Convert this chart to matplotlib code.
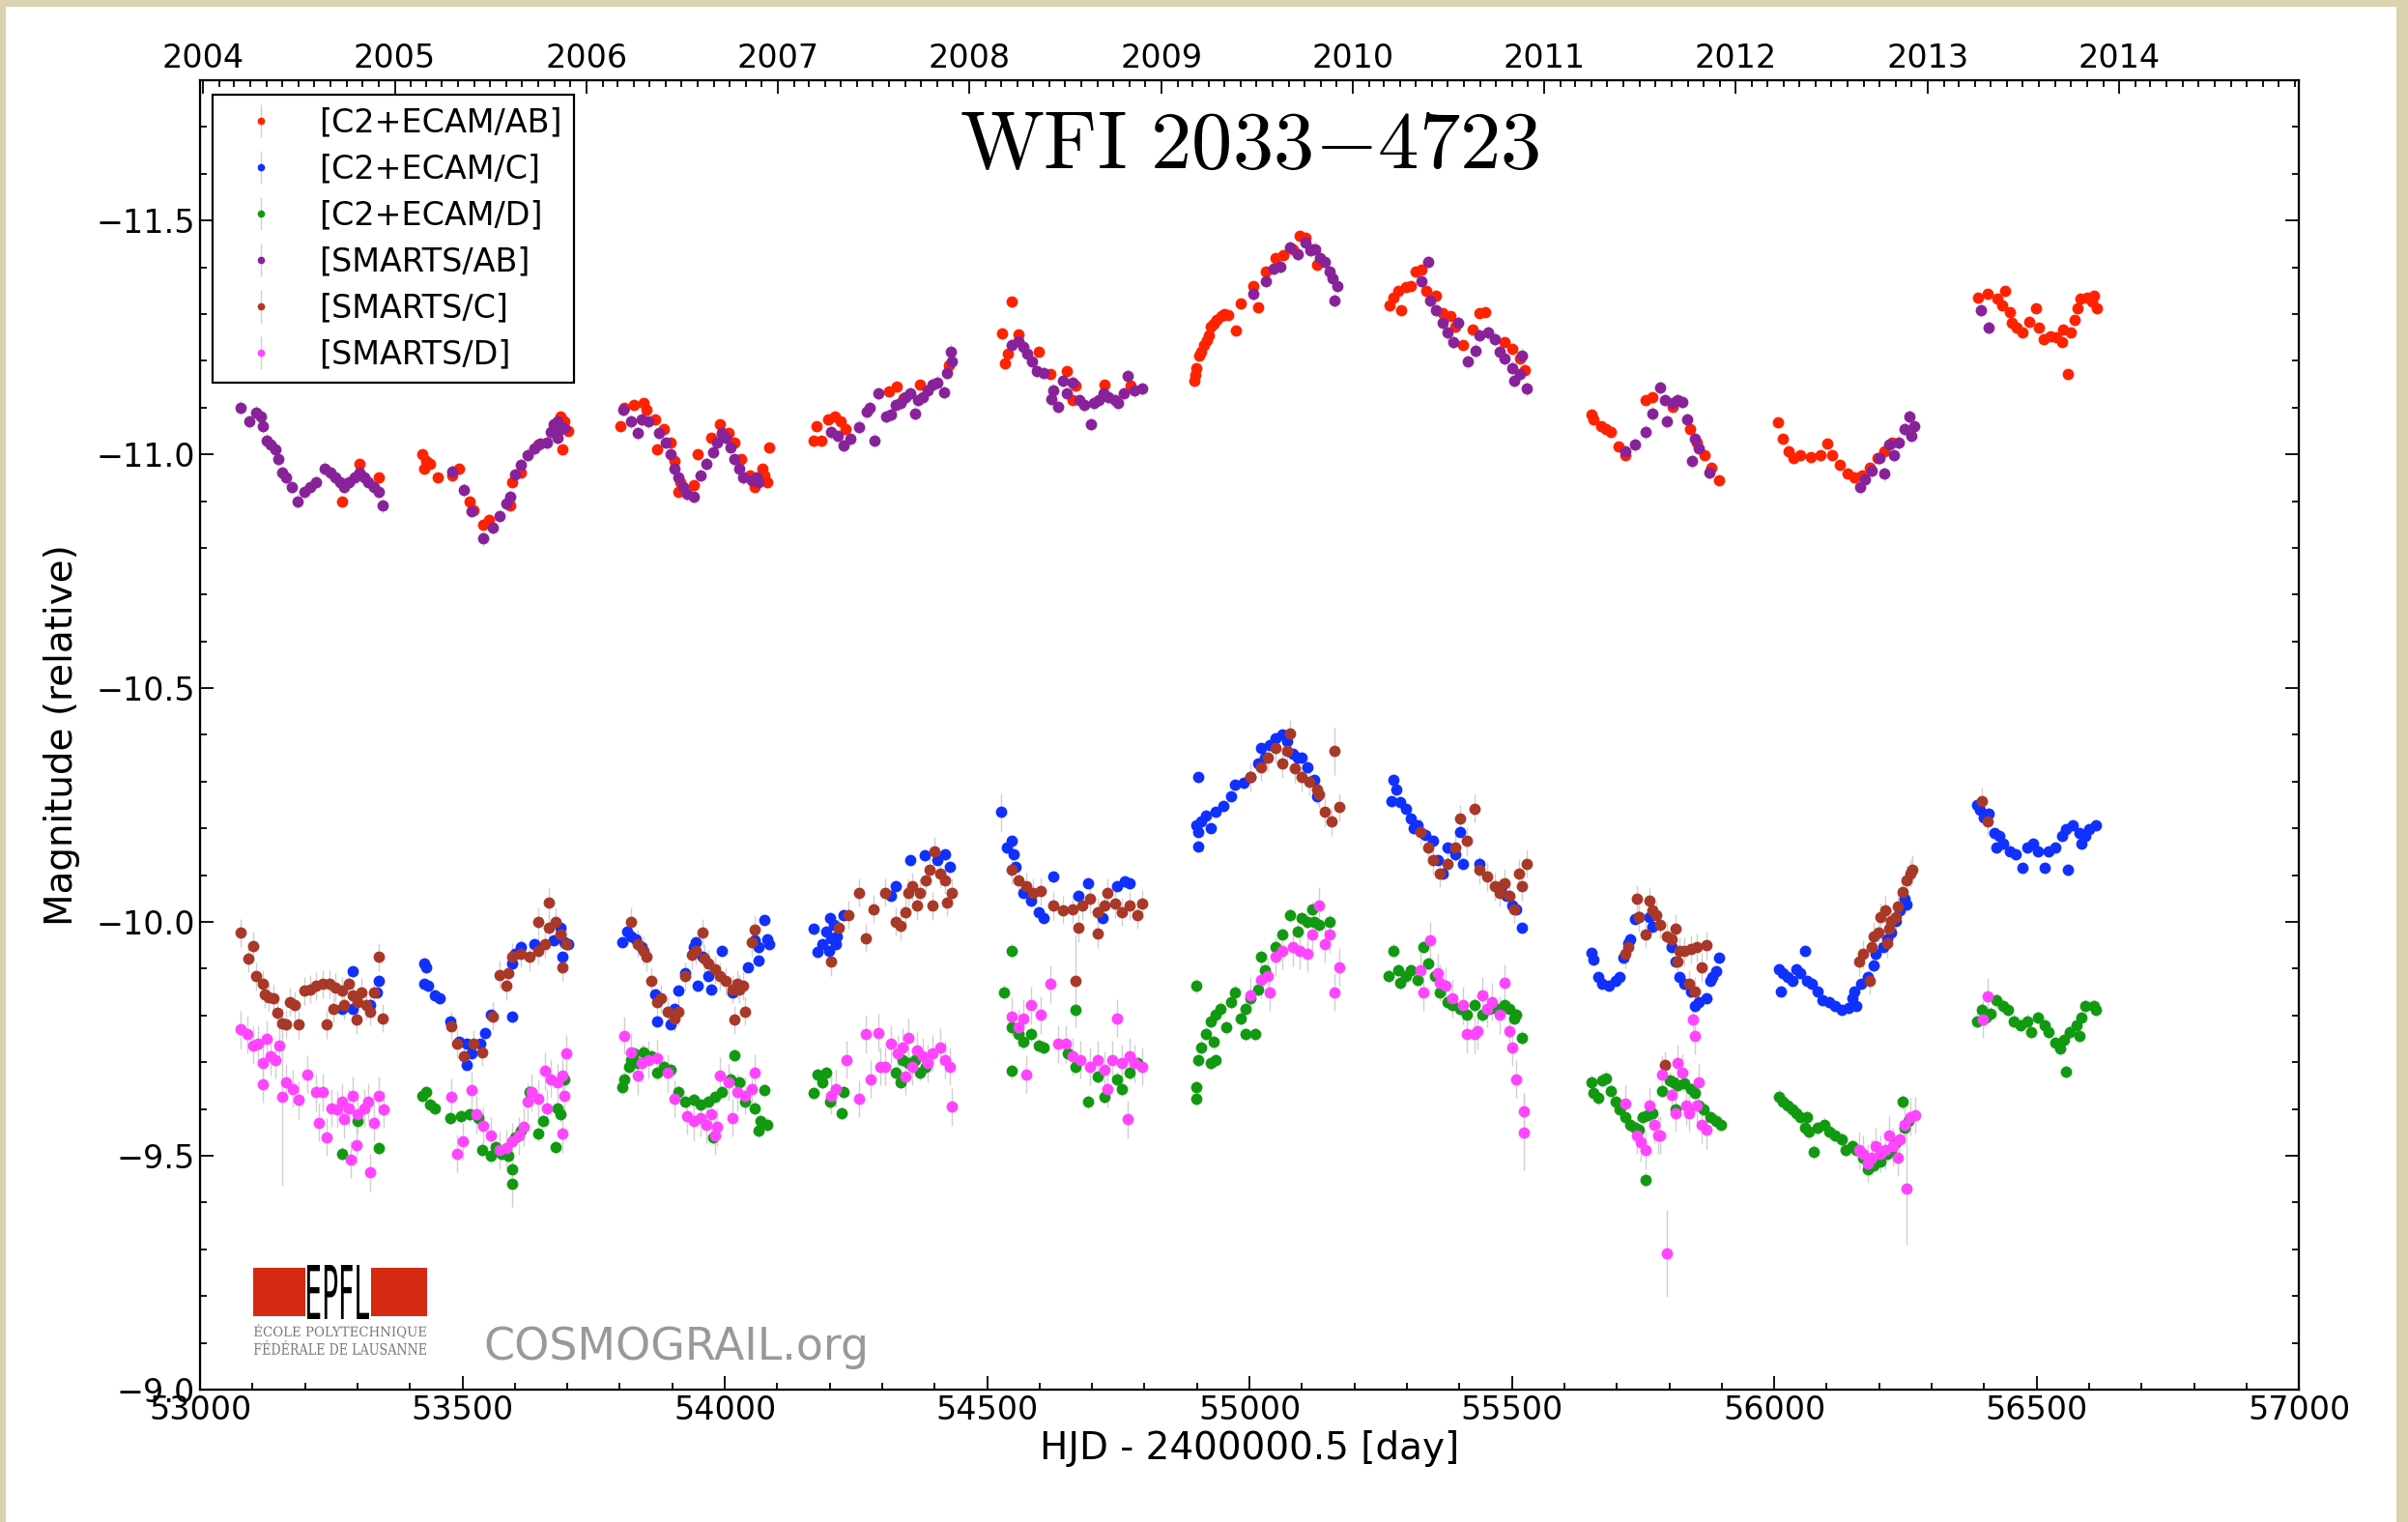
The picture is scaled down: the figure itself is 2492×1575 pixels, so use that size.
import datetime as dt
import numpy as np
import matplotlib
matplotlib.use('Agg')
import matplotlib.pyplot as plt
from matplotlib.patches import Rectangle, PathPatch
from matplotlib.ticker import MultipleLocator, FixedLocator
from matplotlib.textpath import TextPath
from matplotlib.transforms import Affine2D, IdentityTransform
from matplotlib.font_manager import FontProperties

plt.rcParams['mathtext.fontset'] = 'cm'
plt.rcParams['font.family'] = ['DejaVu Sans']

# ---- light curves: (HJD - 2400000.5, magnitude) ----
ecam_ab = [
    (53271, -10.90), (53304, -10.98), (53341, -10.95),
    (53423, -11.00), (53431, -10.985), (53439, -10.98), (53427, -10.97), (53452, -10.95),
    (53480, -10.955), (53493, -10.97), (53513, -10.90), (53521, -10.88), (53540, -10.85),
    (53550, -10.86), (53595, -10.94), (53591, -10.89), (53612, -10.96), (53645, -11.02),
    (53686, -11.08), (53690, -11.01), (53702, -11.05), (53694, -11.07),
    (53801, -11.06), (53809, -11.10), (53826, -11.105), (53846, -11.11), (53850, -11.095),
    (53867, -11.075), (53883, -11.055), (53871, -11.01), (53896, -11.025), (53904, -10.985),
    (53916, -10.94), (53912, -10.92), (53941, -10.935), (53949, -11.00), (53974, -11.035),
    (53990, -11.065), (54007, -11.045), (54019, -11.025), (54031, -10.99), (54048, -10.955),
    (54056, -10.93), (54072, -10.97), (54081, -10.94), (54085, -11.015), (54076, -10.955),
    (54175, -11.06), (54169, -11.03), (54184, -11.03), (54196, -11.075), (54209, -11.08),
    (54221, -11.07), (54230, -11.055), (54313, -11.135), (54328, -11.145), (54341, -11.12),
    (54371, -11.15), (54427, -11.19),
    (54546, -11.326), (54528, -11.259), (54559, -11.257), (54534, -11.195), (54540, -11.216),
    (54599, -11.219), (54620, -11.171), (54651, -11.178), (54669, -11.147), (54663, -11.116),
    (54724, -11.15), (54774, -11.147),
    (54894, -11.157), (54897, -11.17), (54899, -11.185), (54904, -11.212), (54908, -11.22),
    (54913, -11.233), (54918, -11.245), (54923, -11.254), (54927, -11.274), (54932, -11.28),
    (54937, -11.288), (54946, -11.295), (54952, -11.30), (54960, -11.298), (54974, -11.264),
    (54984, -11.322), (55007, -11.36), (55017, -11.315), (55031, -11.391), (55050, -11.419),
    (55064, -11.425), (55082, -11.439), (55096, -11.467), (55106, -11.463), (55120, -11.439),
    (55129, -11.405),
    (55266, -11.319), (55275, -11.336), (55289, -11.309), (55284, -11.35), (55299, -11.357),
    (55308, -11.36), (55317, -11.391), (55327, -11.395), (55336, -11.35), (55355, -11.34),
    (55369, -11.302), (55383, -11.295), (55392, -11.274), (55407, -11.233), (55425, -11.267),
    (55439, -11.302), (55449, -11.305), (55486, -11.24), (55501, -11.226), (55515, -11.205),
    (55524, -11.181),
    (55651, -11.085), (55656, -11.075), (55670, -11.061), (55679, -11.054), (55688, -11.047),
    (55703, -11.016), (55717, -10.999), (55754, -11.116), (55768, -11.123), (55806, -11.102),
    (55839, -11.054), (55853, -11.026), (55867, -10.999), (55881, -10.971), (55895, -10.944),
    (56008, -11.068), (56017, -11.033), (56027, -11.006), (56036, -10.992), (56050, -10.999),
    (56069, -10.995), (56088, -10.999), (56102, -11.023), (56111, -10.999), (56125, -10.978),
    (56139, -10.958), (56153, -10.951), (56168, -10.954), (56182, -10.971), (56196, -10.992),
    (56210, -11.006), (56224, -11.026),
    (56388, -11.336), (56406, -11.343), (56425, -11.333), (56440, -11.35), (56434, -11.319),
    (56449, -11.305), (56452, -11.281), (56462, -11.271), (56474, -11.26), (56486, -11.284),
    (56498, -11.312), (56505, -11.271), (56514, -11.247), (56526, -11.253), (56538, -11.25),
    (56548, -11.24), (56551, -11.267), (56560, -11.171), (56566, -11.26), (56572, -11.288),
    (56578, -11.312), (56584, -11.333), (56597, -11.336), (56609, -11.34), (56615, -11.312),
    (56606, -11.326),
]

ecam_c = [
    (53291, -9.894), (53341, -9.874), (53271, -9.815), (53291, -9.815), (53324, -9.822),
    (53336, -9.85),
    (53427, -9.911), (53431, -9.904), (53427, -9.867), (53435, -9.863), (53447, -9.843),
    (53456, -9.836), (53476, -9.787), (53493, -9.743), (53509, -9.739), (53517, -9.719),
    (53509, -9.695), (53534, -9.739), (53544, -9.763), (53554, -9.801), (53594, -9.798),
    (53595, -9.911), (53600, -9.932), (53612, -9.946), (53637, -9.953), (53673, -9.96),
    (53686, -9.987), (53690, -9.925), (53694, -9.956), (53702, -9.953),
    (53805, -9.956), (53813, -9.98), (53822, -9.97), (53830, -9.963), (53842, -9.946),
    (53867, -9.846), (53871, -9.787), (53896, -9.781), (53904, -9.815), (53912, -9.853),
    (53924, -9.891), (53941, -9.946), (53945, -9.956), (53949, -9.863), (53957, -9.925),
    (53969, -9.884), (53974, -9.856), (53994, -9.939), (54015, -9.85), (54027, -9.863),
    (54044, -9.904), (54056, -9.96), (54064, -9.946), (54076, -10.004), (54081, -9.963),
    (54085, -9.953), (54064, -9.918),
    (54170, -9.985), (54185, -9.952), (54200, -10.008), (54214, -9.969), (54176, -9.936),
    (54194, -9.98), (54203, -9.966), (54212, -9.953), (54198, -9.939), (54208, -9.994),
    (54227, -10.015), (54316, -10.056), (54325, -10.076), (54353, -10.132), (54381, -10.142),
    (54405, -10.132), (54429, -10.118), (54419, -10.145),
    (54537, -10.159), (54546, -10.173), (54551, -10.145), (54555, -10.118),
    (54569, -10.063), (54584, -10.046), (54598, -10.021), (54607, -10.008), (54626, -10.097),
    (54673, -10.056), (54692, -10.083), (54720, -10.008), (54748, -10.076), (54762, -10.087),
    (54771, -10.083),
    (54903, -10.31), (54898, -10.207), (54903, -10.193), (54908, -10.214), (54917, -10.228),
    (54927, -10.2), (54936, -10.235), (54950, -10.248), (54964, -10.269), (54973, -10.293),
    (54988, -10.297), (55002, -10.31), (55016, -10.338), (55021, -10.372), (55030, -10.352),
    (55039, -10.379), (55049, -10.393), (55063, -10.4), (55072, -10.386), (55082, -10.359),
    (55091, -10.352), (55100, -10.352), (55110, -10.331), (55124, -10.304), (55128, -10.269),
    (54903, -10.162),
    (55274, -10.304), (55279, -10.283), (55270, -10.259), (55288, -10.256), (55298, -10.242),
    (55307, -10.221), (55312, -10.2), (55321, -10.207), (55335, -10.187), (55349, -10.173),
    (55359, -10.132), (55368, -10.104), (55377, -10.159), (55392, -10.145), (55401, -10.193),
    (55406, -10.125), (55439, -10.125), (55481, -10.076), (55490, -10.056), (55500, -10.035),
    (55509, -10.028), (55519, -9.987),
    (55652, -9.935), (55656, -9.919), (55664, -9.883), (55672, -9.867), (55685, -9.864),
    (55697, -9.875), (55705, -9.883), (55713, -9.923), (55722, -9.954), (55726, -9.962),
    (55734, -10.006), (55742, -10.01), (55763, -10.01), (55767, -9.99), (55804, -9.946),
    (55812, -9.915), (55820, -9.883), (55828, -9.867), (55841, -9.852), (55849, -9.82),
    (55857, -9.828), (55870, -9.836), (55882, -9.883), (55894, -9.923), (55890, -9.895),
    (55878, -9.875),
    (56009, -9.899), (56013, -9.852), (56017, -9.891), (56026, -9.883), (56034, -9.875),
    (56042, -9.899), (56050, -9.891), (56058, -9.939), (56063, -9.875), (56071, -9.867),
    (56083, -9.852), (56091, -9.832), (56104, -9.828), (56116, -9.82), (56128, -9.812),
    (56141, -9.816), (56149, -9.836), (56157, -9.82), (56153, -9.852), (56165, -9.867),
    (56178, -9.883), (56190, -9.907), (56194, -9.931), (56207, -9.946), (56215, -9.962),
    (56223, -9.978), (56231, -10.002), (56239, -10.025), (56248, -10.049), (56252, -10.037),
    (56387, -10.251), (56392, -10.239), (56400, -10.223), (56408, -10.231), (56420, -10.191),
    (56428, -10.183), (56424, -10.16), (56437, -10.168), (56449, -10.152), (56461, -10.144),
    (56474, -10.116), (56482, -10.16), (56494, -10.168), (56503, -10.152), (56515, -10.116),
    (56523, -10.152), (56536, -10.16), (56548, -10.183), (56556, -10.199), (56560, -10.112),
    (56568, -10.207), (56581, -10.191), (56593, -10.183), (56601, -10.199), (56613, -10.207),
    (56585, -10.168),
]

ecam_d = [
    (53271, -9.505), (53341, -9.516), (53300, -9.574),
    (53423, -9.629), (53431, -9.636), (53439, -9.609), (53447, -9.602), (53476, -9.581),
    (53497, -9.585), (53513, -9.588), (53530, -9.581), (53538, -9.512), (53554, -9.499),
    (53563, -9.519), (53575, -9.505), (53587, -9.499), (53595, -9.471), (53600, -9.54),
    (53612, -9.554), (53628, -9.636), (53645, -9.547), (53653, -9.574), (53678, -9.519),
    (53686, -9.588), (53694, -9.664), (53682, -9.602),
    (53805, -9.646), (53809, -9.664), (53817, -9.691), (53822, -9.705), (53826, -9.719),
    (53834, -9.698), (53846, -9.722), (53859, -9.712), (53871, -9.677), (53883, -9.691),
    (53896, -9.684), (53912, -9.636), (53924, -9.615), (53941, -9.619), (53953, -9.609),
    (53969, -9.615), (53982, -9.626), (53994, -9.636), (54011, -9.664), (54019, -9.715),
    (54027, -9.657), (54039, -9.615), (54056, -9.602), (54068, -9.574), (54081, -9.567),
    (54076, -9.64), (54064, -9.554), (53978, -9.54),
    (54170, -9.634), (54185, -9.657), (54200, -9.615), (54176, -9.674),
    (54194, -9.677), (54222, -9.591), (54227, -9.636), (54325, -9.677), (54335, -9.657),
    (54349, -9.698), (54363, -9.705), (54372, -9.677), (54382, -9.691), (54339, -9.705),
    (54546, -9.939), (54532, -9.85), (54546, -9.774), (54560, -9.76), (54569, -9.743),
    (54584, -9.76), (54598, -9.736), (54607, -9.732), (54654, -9.719), (54668, -9.691),
    (54692, -9.616), (54710, -9.67), (54724, -9.626), (54748, -9.664), (54757, -9.643),
    (54771, -9.677), (54786, -9.698), (54546, -9.681), (54668, -9.812),
    (54898, -9.863), (54898, -9.647), (54898, -9.622), (54903, -9.705), (54908, -9.732),
    (54917, -9.76), (54927, -9.787), (54931, -9.743), (54936, -9.801), (54945, -9.815),
    (54955, -9.774), (54964, -9.829), (54973, -9.85), (54983, -9.794), (54992, -9.815),
    (55002, -9.836), (55016, -9.856), (55021, -9.925), (55030, -9.897), (55049, -9.946),
    (55063, -9.973), (55077, -10.015), (55091, -9.98), (55100, -10.008), (55110, -10.001),
    (55119, -10.028), (55124, -10.001), (55133, -9.994), (55152, -10.001), (54936, -9.705),
    (54927, -9.698), (54992, -9.76), (55011, -9.76),
    (55265, -9.884), (55274, -9.939), (55283, -9.897), (55288, -9.87), (55298, -9.884),
    (55307, -9.897), (55321, -9.877), (55331, -9.946), (55340, -9.911), (55354, -9.884),
    (55363, -9.85), (55377, -9.829), (55387, -9.822), (55401, -9.815), (55415, -9.801),
    (55429, -9.822), (55443, -9.801), (55457, -9.815), (55471, -9.815), (55486, -9.822),
    (55495, -9.815), (55504, -9.794), (55519, -9.753), (55509, -9.801),
    (55652, -9.658), (55656, -9.634), (55664, -9.623), (55672, -9.662), (55680, -9.666),
    (55689, -9.638), (55697, -9.615), (55705, -9.599), (55717, -9.583), (55726, -9.567),
    (55734, -9.559), (55742, -9.555), (55750, -9.583), (55759, -9.587), (55767, -9.591),
    (55754, -9.449), (55787, -9.638), (55800, -9.662), (55808, -9.658), (55816, -9.65),
    (55828, -9.654), (55841, -9.642), (55849, -9.634), (55857, -9.607), (55866, -9.599),
    (55878, -9.583), (55890, -9.575), (55898, -9.567), (55812, -9.599), (55837, -9.599),
    (56009, -9.627), (56017, -9.615), (56026, -9.607), (56034, -9.599), (56042, -9.591),
    (56050, -9.583), (56058, -9.559), (56067, -9.551), (56075, -9.508), (56083, -9.559),
    (56096, -9.567), (56104, -9.551), (56116, -9.544), (56128, -9.536), (56137, -9.512),
    (56149, -9.52), (56157, -9.512), (56170, -9.496), (56178, -9.472), (56190, -9.48),
    (56202, -9.488), (56215, -9.504), (56223, -9.512), (56231, -9.528), (56244, -9.615),
    (56248, -9.559), (56256, -9.575), (56063, -9.583),
    (56387, -9.788), (56396, -9.812), (56404, -9.796), (56412, -9.804), (56424, -9.832),
    (56437, -9.82), (56445, -9.812), (56457, -9.788), (56470, -9.78), (56482, -9.788),
    (56490, -9.765), (56503, -9.796), (56515, -9.78), (56523, -9.765), (56536, -9.741),
    (56544, -9.729), (56552, -9.749), (56564, -9.765), (56577, -9.78), (56585, -9.796),
    (56593, -9.82), (56609, -9.82), (56613, -9.812), (56556, -9.68), (56581, -9.757),
]

smarts_ab = [
    (53077, -11.10), (53094, -11.07), (53106, -11.09), (53115, -11.08), (53119, -11.06),
    (53127, -11.03), (53135, -11.02), (53143, -11.01), (53149, -10.99), (53156, -10.96),
    (53164, -10.95), (53175, -10.93), (53186, -10.90), (53199, -10.92), (53209, -10.93),
    (53221, -10.94), (53238, -10.97), (53248, -10.96), (53258, -10.95), (53267, -10.94),
    (53275, -10.93), (53283, -10.94), (53295, -10.95), (53304, -10.96), (53312, -10.95),
    (53320, -10.94), (53332, -10.93), (53341, -10.92), (53347, -10.89),
    (53480, -10.964), (53503, -10.923), (53517, -10.878), (53540, -10.82), (53558, -10.844),
    (53571, -10.868), (53583, -10.895), (53591, -10.909), (53600, -10.957), (53612, -10.978),
    (53624, -10.999), (53637, -11.012), (53649, -11.023), (53661, -11.026), (53669, -11.047),
    (53673, -11.064), (53682, -11.071), (53686, -11.054), (53694, -11.057), (53682, -11.036),
    (53807, -11.095), (53822, -11.07), (53834, -11.045), (53842, -11.075), (53854, -11.07),
    (53875, -11.045), (53887, -11.025), (53896, -11.00), (53904, -10.97), (53912, -10.95),
    (53920, -10.93), (53928, -10.915), (53941, -10.91), (53953, -10.955), (53965, -10.98),
    (53978, -11.005), (53986, -11.025), (53994, -11.045), (54002, -11.035), (54011, -11.015),
    (54019, -10.99), (54027, -10.97), (54035, -10.95), (54052, -10.945), (54060, -10.95),
    (54064, -10.94),
    (54203, -11.047), (54215, -11.04), (54227, -11.019), (54239, -11.033), (54255, -11.059),
    (54270, -11.092), (54276, -11.099), (54285, -11.03), (54292, -11.13), (54307, -11.081),
    (54316, -11.085), (54325, -11.105), (54335, -11.109), (54344, -11.123), (54353, -11.13),
    (54362, -11.088), (54368, -11.116), (54378, -11.123), (54387, -11.136), (54396, -11.15),
    (54405, -11.154), (54417, -11.133), (54424, -11.174), (54433, -11.198), (54430, -11.22),
    (54546, -11.233), (54559, -11.243), (54568, -11.229), (54577, -11.216), (54586, -11.198),
    (54595, -11.178), (54608, -11.174), (54626, -11.136), (54623, -11.119), (54635, -11.102),
    (54645, -11.157), (54651, -11.13), (54663, -11.154), (54675, -11.116), (54684, -11.105),
    (54697, -11.064), (54703, -11.109), (54712, -11.116), (54721, -11.13), (54731, -11.123),
    (54743, -11.116), (54749, -11.109), (54761, -11.13), (54767, -11.167), (54780, -11.136),
    (54795, -11.14),
    (55007, -11.343), (55031, -11.37), (55045, -11.398), (55059, -11.401), (55078, -11.443),
    (55092, -11.429), (55106, -11.453), (55115, -11.436), (55125, -11.439), (55134, -11.419),
    (55143, -11.412), (55153, -11.391), (55158, -11.377), (55167, -11.36), (55162, -11.329),
    (55327, -11.37), (55341, -11.412), (55345, -11.329), (55355, -11.309), (55369, -11.281),
    (55378, -11.26), (55388, -11.24), (55397, -11.281), (55416, -11.198), (55430, -11.222),
    (55439, -11.254), (55454, -11.26), (55468, -11.247), (55477, -11.219), (55486, -11.205),
    (55501, -11.185), (55505, -11.157), (55519, -11.212), (55529, -11.14), (55515, -11.171),
    (55717, -11.006), (55735, -11.02), (55754, -11.047), (55768, -11.088), (55782, -11.143),
    (55792, -11.116), (55796, -11.071), (55806, -11.109), (55815, -11.116), (55825, -11.112),
    (55834, -11.075), (55848, -11.033), (55857, -11.013), (55843, -10.985), (55876, -10.961),
    (56163, -10.93), (56172, -10.947), (56186, -10.965), (56201, -10.992), (56210, -10.958),
    (56219, -11.02), (56229, -10.999), (56238, -11.026), (56248, -11.054), (56257, -11.081),
    (56266, -11.061), (56262, -11.04),
    (56394, -11.308), (56408, -11.271),
]

smarts_c = [
    (53077, -9.977), (53101, -9.949), (53092, -9.922), (53106, -9.884), (53119, -9.867),
    (53123, -9.846), (53131, -9.839), (53139, -9.836), (53147, -9.805), (53156, -9.784),
    (53164, -9.781), (53172, -9.829), (53180, -9.822), (53187, -9.781), (53199, -9.853),
    (53209, -9.856), (53221, -9.863), (53234, -9.867), (53246, -9.867), (53258, -9.86),
    (53271, -9.853), (53283, -9.867), (53291, -9.843), (53300, -9.829), (53308, -9.85),
    (53316, -9.822), (53324, -9.808), (53332, -9.85), (53341, -9.925), (53347, -9.794),
    (53242, -9.781), (53254, -9.815), (53298, -9.791), (53275, -9.822),
    (53479, -9.777), (53490, -9.739), (53503, -9.712), (53521, -9.739), (53538, -9.722),
    (53558, -9.798), (53571, -9.887), (53587, -9.891), (53583, -9.863), (53595, -9.925),
    (53612, -9.932), (53628, -9.925), (53645, -10.001), (53645, -9.939), (53657, -9.953),
    (53665, -9.987), (53678, -10.001), (53686, -9.973), (53690, -9.904), (53698, -9.953),
    (53665, -10.042),
    (53822, -10.001), (53834, -9.953), (53846, -9.939), (53850, -9.925), (53859, -9.874),
    (53871, -9.829), (53879, -9.836), (53891, -9.808), (53904, -9.794), (53912, -9.808),
    (53924, -9.884), (53937, -9.929), (53945, -9.939), (53957, -9.977), (53961, -9.922),
    (53969, -9.911), (53982, -9.898), (53990, -9.884), (54002, -9.874), (54015, -9.856),
    (54027, -9.856), (54035, -9.863), (54019, -9.791), (54039, -9.808), (54056, -9.983),
    (54052, -9.956), (54023, -9.867),
    (54203, -9.915), (54217, -9.987), (54236, -10.015), (54255, -10.063), (54269, -9.966),
    (54283, -10.028), (54306, -10.063), (54325, -10.001), (54335, -9.991), (54344, -10.021),
    (54349, -10.063), (54358, -10.076), (54367, -10.035), (54372, -10.063), (54382, -10.09),
    (54391, -10.111), (54400, -10.152), (54410, -10.104), (54419, -10.09), (54424, -10.042),
    (54433, -10.063), (54396, -10.035),
    (54546, -10.111), (54560, -10.09), (54574, -10.076), (54588, -10.063), (54602, -10.066),
    (54626, -10.035), (54645, -10.025), (54663, -10.028), (54682, -10.035), (54696, -10.049),
    (54710, -10.021), (54724, -10.035), (54729, -10.063), (54743, -10.039), (54757, -10.021),
    (54771, -10.035), (54786, -10.015), (54795, -10.039), (54673, -9.987), (54710, -9.975),
    (55002, -10.31), (55021, -10.331), (55035, -10.352), (55049, -10.372), (55063, -10.338),
    (55072, -10.365), (55077, -10.403), (55086, -10.328), (55100, -10.31), (55114, -10.3),
    (55128, -10.283), (55133, -10.273), (55143, -10.235), (55157, -10.214), (55171, -10.245),
    (55326, -10.193), (55340, -10.159), (55349, -10.132), (55363, -10.104), (55377, -10.125),
    (55392, -10.159), (55401, -10.221), (55415, -10.173), (55429, -10.242), (55439, -10.111),
    (55453, -10.097), (55467, -10.076), (55476, -10.063), (55486, -10.083), (55495, -10.056),
    (55504, -10.028), (55514, -10.104), (55528, -10.125), (55519, -10.076),
    (55717, -9.931), (55722, -9.946), (55738, -10.049), (55742, -10.01), (55754, -9.974),
    (55763, -10.045), (55767, -10.025), (55775, -10.014), (55783, -9.994), (55796, -9.97),
    (55804, -9.962), (55812, -9.986), (55820, -9.938), (55828, -9.938), (55841, -9.942),
    (55853, -9.946), (55861, -9.903), (55870, -9.95), (55816, -9.915), (55837, -9.867),
    (55849, -9.852), (55791, -9.694),
    (56161, -9.915), (56170, -9.931), (56182, -9.875), (56186, -9.946), (56198, -9.978),
    (56203, -10.01), (56211, -10.025), (56219, -9.986), (56223, -10.002), (56231, -10.01),
    (56235, -10.033), (56244, -10.065), (56252, -10.089), (56260, -10.104), (56264, -10.112),
    (56215, -9.954), (56190, -9.97),
    (56396, -10.258), (56406, -10.215),
]

smarts_d = [
    (53077, -9.77), (53090, -9.76), (53102, -9.736), (53110, -9.739), (53127, -9.75),
    (53135, -9.712), (53143, -9.705), (53119, -9.698), (53150, -9.736), (53119, -9.653),
    (53164, -9.657), (53176, -9.643), (53188, -9.619), (53205, -9.674), (53221, -9.636),
    (53234, -9.636), (53227, -9.571), (53242, -9.54), (53250, -9.602), (53262, -9.599),
    (53271, -9.615), (53283, -9.602), (53291, -9.629), (53300, -9.588), (53312, -9.602),
    (53320, -9.615), (53341, -9.629), (53349, -9.599), (53332, -9.571), (53298, -9.523),
    (53287, -9.492), (53324, -9.464), (53275, -9.578),
    (53479, -9.626), (53517, -9.64), (53501, -9.53), (53490, -9.505), (53526, -9.588),
    (53540, -9.564), (53554, -9.543), (53571, -9.512), (53583, -9.516), (53595, -9.53),
    (53608, -9.543), (53616, -9.561), (53624, -9.615), (53632, -9.636), (53645, -9.622),
    (53657, -9.681), (53669, -9.664), (53682, -9.657), (53690, -9.671), (53698, -9.719),
    (53694, -9.629), (53690, -9.547), (53661, -9.602),
    (53808, -9.757), (53822, -9.722), (53834, -9.671), (53842, -9.698), (53854, -9.705),
    (53871, -9.708), (53891, -9.677), (53904, -9.622), (53928, -9.585), (53941, -9.574),
    (53953, -9.581), (53965, -9.567), (53974, -9.588), (53986, -9.561), (53990, -9.671),
    (54007, -9.657), (54023, -9.636), (54039, -9.629), (54052, -9.643), (54056, -9.677),
    (54015, -9.581), (53982, -9.543),
    (54203, -9.629), (54212, -9.643), (54231, -9.705), (54255, -9.622), (54269, -9.76),
    (54278, -9.664), (54292, -9.763), (54306, -9.691), (54316, -9.739), (54330, -9.719),
    (54339, -9.732), (54349, -9.753), (54358, -9.691), (54367, -9.725), (54377, -9.712),
    (54386, -9.698), (54396, -9.719), (54410, -9.732), (54419, -9.705), (54429, -9.691),
    (54433, -9.605), (54344, -9.67), (54297, -9.691),
    (54546, -9.798), (54560, -9.774), (54569, -9.794), (54584, -9.822), (54602, -9.801),
    (54621, -9.867), (54635, -9.739), (54649, -9.739), (54663, -9.712), (54677, -9.705),
    (54696, -9.691), (54710, -9.705), (54724, -9.684), (54739, -9.705), (54748, -9.794),
    (54757, -9.698), (54771, -9.712), (54781, -9.698), (54795, -9.691), (54574, -9.674),
    (54729, -9.643), (54767, -9.578),
    (55002, -9.843), (55021, -9.877), (55035, -9.884), (55039, -9.85), (55049, -9.925),
    (55063, -9.939), (55082, -9.946), (55096, -9.939), (55110, -9.932), (55119, -9.973),
    (55133, -10.035), (55143, -9.953), (55152, -9.973), (55171, -9.904), (55161, -9.85),
    (55326, -9.897), (55344, -9.96), (55359, -9.891), (55363, -9.87), (55373, -9.863),
    (55331, -9.85), (55387, -9.836), (55406, -9.822), (55415, -9.76), (55429, -9.76),
    (55443, -9.843), (55453, -9.815), (55462, -9.829), (55476, -9.801), (55486, -9.87),
    (55495, -9.767), (55500, -9.732), (55509, -9.664), (55523, -9.595), (55434, -9.767),
    (55845, -9.792), (55849, -9.757),
    (55717, -9.611), (55738, -9.544), (55746, -9.528), (55754, -9.512), (55763, -9.607),
    (55771, -9.567), (55779, -9.544), (55786, -9.674), (55804, -9.631), (55816, -9.698),
    (55824, -9.678), (55812, -9.591), (55833, -9.607), (55837, -9.591), (55853, -9.607),
    (55857, -9.658), (55861, -9.567), (55870, -9.555), (55783, -9.544),
    (56161, -9.512), (56170, -9.504), (56178, -9.484), (56186, -9.496), (56194, -9.52),
    (56202, -9.504), (56211, -9.512), (56219, -9.544), (56227, -9.52), (56235, -9.496),
    (56239, -9.536), (56248, -9.567), (56260, -9.583), (56268, -9.587),
    (56406, -9.84), (56398, -9.792),
]

# typical error bar half-lengths (mag) per series
err_ecam_ab, err_ecam_c, err_ecam_d = 0.008, 0.012, 0.015
err_smarts_ab, err_smarts_c, err_smarts_d = 0.015, 0.03, 0.04

# points with visibly long error bars: (HJD, mag, err)
wide_ecam_c = [(54527, -10.235, 0.04)]
wide_smarts_c = [(54668, -9.874, 0.10), (55161, -10.365, 0.05)]
wide_smarts_d = [(53156, -9.626, 0.19), (55795, -9.291, 0.093), (56252, -9.429, 0.12),
                 (55523, -9.55, 0.08)]
wide_ecam_d = [(53594, -9.44, 0.05)]

labels = ['[C2+ECAM/AB]', '[C2+ECAM/C]', '[C2+ECAM/D]',
          '[SMARTS/AB]', '[SMARTS/C]', '[SMARTS/D]']
colors = ['#ff2200', '#1030ff', '#119911', '#88229a', '#a83828', '#ff44ff']
years = list(range(2004, 2015))


def mjd(y, m=1, d=1):
    return (dt.date(y, m, d) - dt.date(1858, 11, 17)).days


def series(pts, err, wide=()):
    t = [p[0] for p in pts] + [p[0] for p in wide]
    m = [p[1] for p in pts] + [p[1] for p in wide]
    e = [err] * len(pts) + [p[2] for p in wide]
    return np.array(t), np.array(m), np.array(e)


fig = plt.figure(figsize=(24.92, 15.75), dpi=100)
fig.patch.set_facecolor('#dbd2b0')
fig.patches.append(Rectangle((0.0024, 0), 0.9928, 0.9956, transform=fig.transFigure,
                             facecolor='white', edgecolor='none', zorder=-10))
ax = fig.add_axes([0.0831, 0.0870, 0.8716, 0.8603])

data = [series(ecam_ab, err_ecam_ab), series(ecam_c, err_ecam_c, wide_ecam_c),
        series(ecam_d, err_ecam_d, wide_ecam_d), series(smarts_ab, err_smarts_ab),
        series(smarts_c, err_smarts_c, wide_smarts_c),
        series(smarts_d, err_smarts_d, wide_smarts_d)]

for (t, m, e), lab, c in zip(data, labels, colors):
    ax.errorbar(t, m, yerr=e, fmt='o', color=c, ms=8.5, mew=0, ecolor='#cfcfcf',
                elinewidth=1.0, capsize=4, capthick=1.0, label=lab)

ax.set_xlim(53000, 57000)
ax.set_ylim(-9.0, -11.8)
ax.xaxis.set_major_locator(MultipleLocator(500))
ax.xaxis.set_minor_locator(MultipleLocator(100))
ax.yaxis.set_major_locator(MultipleLocator(0.5))
ax.yaxis.set_minor_locator(MultipleLocator(0.1))
ax.tick_params(which='both', direction='in', top=False, right=True, labelsize=24, width=1.3)
ax.tick_params(which='major', length=10)
ax.tick_params(which='minor', length=5)
ax.set_xlabel('HJD - 2400000.5 [day]', fontsize=28, labelpad=3)
ax.set_ylabel('Magnitude (relative)', fontsize=28, labelpad=12)
for s in ax.spines.values():
    s.set_linewidth(1.6)

# calendar years on top
ax2 = ax.twiny()
ax2.set_xlim(ax.get_xlim())
ax2.xaxis.set_major_locator(FixedLocator([mjd(y) for y in years]))
ax2.set_xticklabels([str(y) for y in years])
ax2.xaxis.set_minor_locator(FixedLocator([mjd(y, mo) for y in range(2003, 2016)
                                          for mo in range(1, 13)]))
ax2.tick_params(which='both', direction='in', labelsize=24, width=1.3, pad=4)
ax2.tick_params(which='major', length=10)
ax2.tick_params(which='minor', length=5)

leg = ax.legend(loc='upper left', bbox_to_anchor=(0.0058, 0.9886), borderaxespad=0,
                numpoints=1, fontsize=24, fancybox=False, edgecolor='black', framealpha=1,
                borderpad=0.37, labelspacing=0.45, handlelength=2.3, handletextpad=0.63,
                markerscale=0.65)
leg.get_frame().set_linewidth(1.6)

ax.text(0.5, 0.95, r'$\mathrm{WFI\ 2033{-}4723}$', transform=ax.transAxes,
        ha='center', va='center', fontsize=61)


# EPFL logo drawn in figure pixels (origin bottom-left)
def fitted_text(s, x0, y0, w, h, color, **fp):
    tp = TextPath((0, 0), s, size=1, prop=FontProperties(**fp))
    ext = tp.get_extents()
    tr = (Affine2D().translate(-ext.x0, -ext.y0)
          .scale(w / ext.width, h / ext.height).translate(x0, y0))
    fig.patches.append(PathPatch(tr.transform_path(tp), facecolor=color, edgecolor='none',
                                 transform=IdentityTransform(), zorder=5))


fig.patches.append(Rectangle((262, 213), 54, 50, transform=IdentityTransform(),
                             facecolor='#d42a12', edgecolor='none', zorder=4))
fig.patches.append(Rectangle((384, 213), 58, 50, transform=IdentityTransform(),
                             facecolor='#d42a12', edgecolor='none', zorder=4))
fitted_text('EPFL', 318, 210, 64, 56, 'black', family='DejaVu Sans')
fitted_text('ÉCOLE POLYTECHNIQUE', 263, 190, 178, 15, '#777777', family='DejaVu Serif')
fitted_text('FÉDÉRALE DE LAUSANNE', 263, 173, 178, 15, '#777777', family='DejaVu Serif')

ax.text(0.135, 0.032, 'COSMOGRAIL.org', transform=ax.transAxes, ha='left', va='center',
        fontsize=33, color='#999999')

fig.savefig('out.png', dpi=100, facecolor=fig.get_facecolor())
